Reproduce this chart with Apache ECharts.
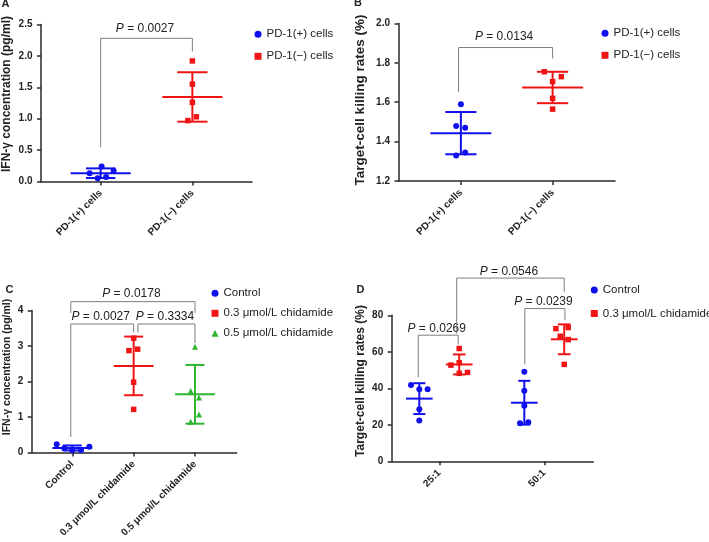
<!DOCTYPE html>
<html><head><meta charset="utf-8">
<script src="https://cdn.jsdelivr.net/npm/echarts@6/dist/echarts.min.js"></script>
<style>html,body{margin:0;padding:0;background:#fff}#c{width:709px;height:542px}</style>
</head><body><div id="c"></div><script>
// ---------- data ----------
const catsA = ['PD-1(+) cells', 'PD-1(\u2212) cells'];
const seriesNamesAB = ['PD-1(+) cells', 'PD-1(\u2212) cells'];
const aPos = [0.24, 0.13, 0.17, 0.05, 0.07];
const aNeg = [1.92, 1.55, 1.26, 1.03, 0.97];
const bPos = [1.59, 1.48, 1.47, 1.345, 1.33];
const bNeg = [1.755, 1.73, 1.705, 1.62, 1.565];
const catsC = ['Control', '0.3 \u03bcmol/L chidamide', '0.5 \u03bcmol/L chidamide'];
const cCtrl = [0.23, 0.12, 0.065, 0.065, 0.16];
const cLow = [3.22, 2.87, 2.91, 1.98, 1.215];
const cHigh = [2.98, 1.73, 1.55, 1.07, 0.865];
const catsD = ['25:1', '50:1'];
const seriesNamesD = ['Control', '0.3 \u03bcmol/L chidamide'];
const dCtrl25 = [41.8, 39.5, 39.5, 28.5, 22.4];
const dChi25 = [61.8, 54, 52.7, 48.7, 48.2];
const dCtrl50 = [49.1, 38.7, 30.4, 20.9, 21.4];
const dChi50 = [72.7, 73.3, 68.5, 66.7, 53.1];
// significance labels and bracket heights [left foot, top, right foot]
const pA = ['0.0027'];  const hA = [[0.545, 2.28, 2.07]];
const pB = ['0.0134'];  const hB = [[1.652, 1.878, 1.822]];
const pC = ['0.0178', '0.0027', '0.3334'];
const hC = [[3.93, 4.25, 3.93], [0.44, 3.62, 3.38], [3.38, 3.62, 3.08]];
const pD = ['0.0269', '0.0239', '0.0546'];
const hD = [[46, 69.1, 64], [53.1, 83.7, 77.3], [70, 100.4, 92.8]];
const yAxisTitles = ['IFN-\u03b3 concentration (pg/ml)', 'Target-cell killing rates (%)'];
const panelLetters = ['A', 'B', 'C', 'D'];

// ---------- style ----------
const FONT = '"Liberation Sans", Arial, Helvetica, sans-serif';
const BLUE = '#1010ee', RED = '#f01515', GREEN = '#2fb52f', AXIS = '#2a2a2a', BRK = '#7d7d7d';
// horizontal jitter of points (pixels)
const jit = {
  aPos: [1, -11, 13, -3, 5.5], aNeg: [0, 0, 0, 4, -4.5],
  bPos: [0, -4.7, 4.3, 4.3, -4.7], bNeg: [-8.3, 8.7, 0, 0, 0],
  cCtrl: [-15.6, -8, 0, 8.7, 17], cLow: [0, -4.7, 4, 0, 0], cHigh: [0, -4.3, 4, 4, -4.3],
  dCtrl25: [-8.3, 0, 8.3, 0, 0], dChi25: [0, 0, -8.3, 8.3, 0],
  dCtrl50: [0, 0, 0, -4.3, 4], dChi50: [-8.3, 4, -4, 4, 0]
};

function meanSd(a) {
  const n = a.length, m = a.reduce((s, v) => s + v, 0) / n;
  const sd = Math.sqrt(a.reduce((s, v) => s + (v - m) * (v - m), 0) / (n - 1));
  return [m, sd];
}
function scatter(name, gi, values, x, jitter, color, symbol, size) {
  return {
    type: 'scatter', name, xAxisIndex: gi, yAxisIndex: gi, symbol, symbolSize: size,
    itemStyle: { color, opacity: 1 }, z: 4, emphasis: { disabled: true }, silent: true,
    data: values.map((v, i) => ({ value: [x, v], symbolOffset: [jitter[i], 0] }))
  };
}
function errBar(gi, values, x, meanW, capW, color) {
  const ms = meanSd(values);
  return {
    type: 'custom', xAxisIndex: gi, yAxisIndex: gi, clip: false, z: 3, silent: true,
    data: [[x, ms[0], ms[1]]],
    renderItem: (params, api) => {
      const xv = api.value(0), m = api.value(1), s = api.value(2);
      const c = api.coord([xv, m]), t = api.coord([xv, m + s]), b = api.coord([xv, m - s]);
      const hw = api.size([meanW, 0])[0] / 2, hc = api.size([capW, 0])[0] / 2;
      const st = { stroke: color, lineWidth: 2 };
      return { type: 'group', children: [
        { type: 'line', shape: { x1: c[0] - hw, y1: c[1], x2: c[0] + hw, y2: c[1] }, style: st },
        { type: 'line', shape: { x1: t[0], y1: t[1], x2: b[0], y2: b[1] }, style: st },
        { type: 'line', shape: { x1: t[0] - hc, y1: t[1], x2: t[0] + hc, y2: t[1] }, style: st },
        { type: 'line', shape: { x1: b[0] - hc, y1: b[1], x2: b[0] + hc, y2: b[1] }, style: st }
      ] };
    }
  };
}
function brackets(gi, xs, heights, labels, textGap) {
  return {
    type: 'custom', xAxisIndex: gi, yAxisIndex: gi, clip: false, z: 2, silent: true,
    data: xs.map((x, i) => [x[0], x[1], heights[i][0], heights[i][1], heights[i][2]]),
    renderItem: (params, api) => {
      const x1 = api.value(0), x2 = api.value(1);
      const pL = api.coord([x1, api.value(2)]), pLT = api.coord([x1, api.value(3)]);
      const pRT = api.coord([x2, api.value(3)]), pR = api.coord([x2, api.value(4)]);
      return { type: 'group', children: [
        { type: 'polyline', shape: { points: [pL, pLT, pRT, pR] }, style: { stroke: BRK, lineWidth: 1, fill: null } },
        { type: 'text', x: (pLT[0] + pRT[0]) / 2 - 1.5, y: pLT[1] - textGap, style: {
          text: '{i|P} = ' + labels[params.dataIndex],
          rich: { i: { fontStyle: 'italic', fontSize: 12, fontFamily: FONT, fill: '#222' } },
          fontSize: 12, fontFamily: FONT, fill: '#222', align: 'center', verticalAlign: 'middle' } }
      ] };
    }
  };
}
function xAx(gi, min, max, cats) {
  const vals = cats.map((c, i) => i + 1);
  return {
    type: 'value', gridIndex: gi, min, max, splitLine: { show: false },
    axisLine: { show: true, onZero: false, lineStyle: { color: AXIS, width: 1.5 } },
    axisTick: { show: true, customValues: vals, length: 4, lineStyle: { color: AXIS, width: 1.5 } },
    axisLabel: { customValues: vals, formatter: v => cats[Math.round(v) - 1] || '', rotate: 45,
      fontSize: 10, fontWeight: 'bold', color: '#222', fontFamily: FONT, margin: 10 }
  };
}
function yAx(gi, min, max, interval, dec) {
  return {
    type: 'value', gridIndex: gi, min, max, interval, splitLine: { show: false },
    axisLine: { show: true, onZero: false, lineStyle: { color: AXIS, width: 1.5 } },
    axisTick: { show: true, length: 4, lineStyle: { color: AXIS, width: 1.5 } },
    axisLabel: { formatter: v => v.toFixed(dec), fontSize: 10, fontWeight: 'bold', color: '#222', fontFamily: FONT, margin: 8.5 }
  };
}
function legend(names, left, top, gap) {
  return { data: names, left, top, orient: 'vertical', itemWidth: 7, itemHeight: 7, itemGap: gap, padding: 0,
    selectedMode: false, textStyle: { fontSize: 11.5, color: '#222', fontFamily: FONT } };
}
const G = 0.19; // group offset in panel D

const series = [
  // A
  brackets(0, [[1, 2]], hA, pA, 10),
  errBar(0, aPos, 1, 0.655, 0.32, BLUE), errBar(0, aNeg, 2, 0.655, 0.33, RED),
  scatter(seriesNamesAB[0], 0, aPos, 1, jit.aPos, BLUE, 'circle', 6),
  scatter(seriesNamesAB[1], 0, aNeg, 2, jit.aNeg, RED, 'rect', 5.5),
  // B
  brackets(1, [[0.975, 2]], hB, pB, 11),
  errBar(1, bPos, 1, 0.665, 0.34, BLUE), errBar(1, bNeg, 2, 0.665, 0.34, RED),
  scatter(seriesNamesAB[0], 1, bPos, 1, jit.bPos, BLUE, 'circle', 6),
  scatter(seriesNamesAB[1], 1, bNeg, 2, jit.bNeg, RED, 'rect', 5.5),
  // C
  brackets(2, [[0.975, 3], [0.975, 2], [2.07, 3]], hC, pC, 7.5),
  errBar(2, cCtrl, 1, 0.65, 0.31, BLUE), errBar(2, cLow, 2, 0.65, 0.31, RED), errBar(2, cHigh, 3, 0.65, 0.31, GREEN),
  scatter(catsC[0], 2, cCtrl, 1, jit.cCtrl, BLUE, 'circle', 6),
  scatter(catsC[1], 2, cLow, 2, jit.cLow, RED, 'rect', 5.5),
  scatter(catsC[2], 2, cHigh, 3, jit.cHigh, GREEN, 'triangle', 6),
  // D
  brackets(3, [[1 - 0.2, 1 + 0.18], [2 - 0.185, 2 + 0.197], [1 + 0.166, 2 + 0.19]], hD, pD, 6.7),
  errBar(3, dCtrl25, 1 - G, 0.254, 0.115, BLUE), errBar(3, dChi25, 1 + G, 0.254, 0.12, RED),
  errBar(3, dCtrl50, 2 - G, 0.254, 0.115, BLUE), errBar(3, dChi50, 2 + G, 0.254, 0.12, RED),
  scatter(seriesNamesD[0], 3, dCtrl25, 1 - G, jit.dCtrl25, BLUE, 'circle', 6),
  scatter(seriesNamesD[1], 3, dChi25, 1 + G, jit.dChi25, RED, 'rect', 5.5),
  scatter(seriesNamesD[0], 3, dCtrl50, 2 - G, jit.dCtrl50, BLUE, 'circle', 6),
  scatter(seriesNamesD[1], 3, dChi50, 2 + G, jit.dChi50, RED, 'rect', 5.5)
];

function vText(txt, x, y, size) {
  return { type: 'text', x, y, rotation: Math.PI / 2, silent: true,
    style: { text: txt, font: 'bold ' + size + 'px ' + FONT, fill: '#222', align: 'center', verticalAlign: 'middle' } };
}
function letter(txt, x, y) {
  return { type: 'text', x, y, silent: true,
    style: { text: txt, font: 'bold 11px ' + FONT, fill: '#222', align: 'center', verticalAlign: 'middle' } };
}

const option = {
  animation: false,
  backgroundColor: '#fff',
  grid: [
    { left: 41, top: 24.5, width: 211, height: 157 },
    { left: 398.5, top: 23.5, width: 216.5, height: 157.5 },
    { left: 31.7, top: 310.5, width: 205, height: 142 },
    { left: 391.7, top: 315.3, width: 201.6, height: 146 }
  ],
  xAxis: [xAx(0, 0.35, 2.65, catsA), xAx(1, 0.32, 2.68, catsA), xAx(2, 0.338, 3.68, catsC), xAx(3, 0.547, 2.467, catsD)],
  yAxis: [yAx(0, 0, 2.5, 0.5, 1), yAx(1, 1.2, 2.0, 0.2, 1), yAx(2, 0, 4, 1, 0), yAx(3, 0, 80, 20, 0)],
  legend: [
    legend(seriesNamesAB, 254.5, 28.3, 10),
    legend(seriesNamesAB, 601.5, 27.3, 10),
    legend(catsC, 211.5, 287.3, 8),
    legend(seriesNamesD, 590.8, 284, 11.5)
  ],
  graphic: [
    vText(yAxisTitles[0], 6.5, 94, 12), vText(yAxisTitles[1], 360.5, 100, 13.5),
    vText(yAxisTitles[0], 7, 367, 10.5), vText(yAxisTitles[1], 360.5, 381, 12),
    letter(panelLetters[0], 5.5, 4), letter(panelLetters[1], 358, 3),
    letter(panelLetters[2], 9.5, 290), letter(panelLetters[3], 360.5, 290)
  ],
  series
};
const chart = echarts.init(document.getElementById('c'), null, { renderer: 'canvas' });
chart.setOption(option);
</script></body></html>
